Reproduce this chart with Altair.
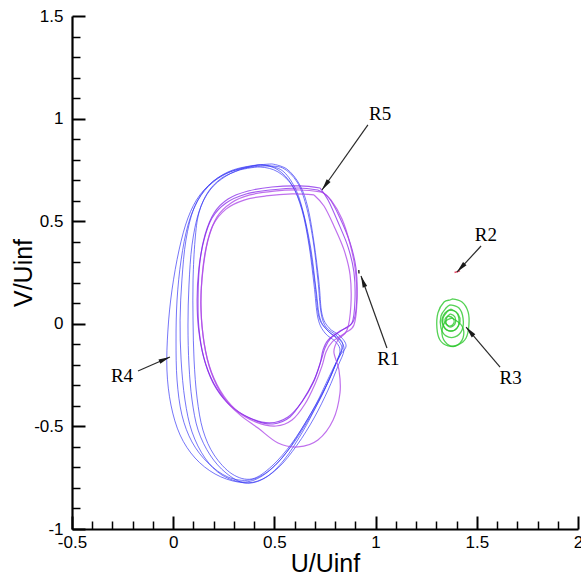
import math
import altair as alt
import pandas as pd

# ---------------- data ----------------
# R4 (blue) cycles
blue_x = [
    [0.419,0.320,0.221,0.132,0.073,0.029,-0.006,-0.026,-0.031,-0.011,0.034,0.108,0.207,0.320,0.419,0.518,0.612,0.696,0.765,0.814,0.844,0.824,0.765,0.725,0.706,0.681,0.646,0.607,0.547,0.478,0.419],
    [0.379,0.281,0.192,0.123,0.073,0.039,0.019,0.014,0.019,0.043,0.093,0.172,0.271,0.379,0.478,0.577,0.661,0.735,0.790,0.824,0.804,0.750,0.715,0.696,0.671,0.636,0.587,0.518,0.439,0.379],
    [0.454,0.355,0.261,0.182,0.127,0.093,0.078,0.073,0.078,0.093,0.123,0.182,0.261,0.355,0.454,0.547,0.636,0.710,0.775,0.814,0.839,0.809,0.755,0.730,0.715,0.691,0.656,0.612,0.542,0.454],
    [0.330,0.241,0.172,0.127,0.108,0.098,0.098,0.103,0.118,0.147,0.202,0.291,0.389,0.488,0.587,0.676,0.750,0.804,0.834,0.809,0.760,0.720,0.701,0.676,0.641,0.592,0.518,0.429,0.330],
    [0.488,0.379,0.271,0.172,0.103,0.063,0.043,0.034,0.039,0.058,0.093,0.157,0.241,0.345,0.439,0.538,0.626,0.706,0.770,0.819,0.854,0.824,0.770,0.735,0.720,0.696,0.666,0.626,0.562,0.488],
]
blue_y = [
    [0.774,0.754,0.711,0.628,0.516,0.360,0.165,-0.030,-0.225,-0.396,-0.542,-0.654,-0.732,-0.771,-0.766,-0.703,-0.591,-0.459,-0.323,-0.206,-0.128,-0.079,-0.035,0.028,0.165,0.360,0.530,0.652,0.740,0.769,0.774],
    [0.764,0.740,0.686,0.603,0.481,0.311,0.116,-0.079,-0.274,-0.444,-0.576,-0.678,-0.747,-0.761,-0.712,-0.605,-0.479,-0.347,-0.225,-0.137,-0.089,-0.045,0.028,0.189,0.384,0.555,0.676,0.750,0.774,0.764],
    [0.769,0.759,0.720,0.652,0.545,0.384,0.189,-0.006,-0.201,-0.371,-0.518,-0.639,-0.727,-0.776,-0.751,-0.664,-0.532,-0.396,-0.264,-0.167,-0.103,-0.059,-0.016,0.057,0.213,0.408,0.579,0.691,0.759,0.769],
    [0.750,0.711,0.642,0.540,0.408,0.213,0.018,-0.176,-0.362,-0.518,-0.639,-0.732,-0.756,-0.693,-0.581,-0.444,-0.313,-0.196,-0.123,-0.074,-0.030,0.033,0.189,0.369,0.545,0.667,0.740,0.764,0.750],
    [0.779,0.769,0.740,0.672,0.564,0.408,0.213,0.018,-0.176,-0.371,-0.527,-0.654,-0.737,-0.771,-0.742,-0.654,-0.527,-0.391,-0.259,-0.162,-0.108,-0.059,-0.020,0.048,0.204,0.394,0.564,0.676,0.754,0.779],
]

# R5 (purple) cycles: two strong, two lighter
purple_x = [
    [0.725,0.626,0.488,0.370,0.271,0.202,0.157,0.132,0.123,0.127,0.152,0.202,0.281,0.379,0.478,0.567,0.636,0.691,0.725,0.740,0.765,0.824,0.883,0.898,0.893,0.864,0.814,0.765,0.725],
    [0.715,0.617,0.478,0.360,0.261,0.192,0.152,0.127,0.118,0.127,0.157,0.211,0.295,0.399,0.493,0.577,0.641,0.696,0.730,0.750,0.780,0.844,0.893,0.908,0.903,0.874,0.824,0.770,0.715],
]
purple_y = [
    [0.662,0.672,0.667,0.647,0.608,0.540,0.433,0.301,0.140,-0.020,-0.167,-0.293,-0.396,-0.459,-0.483,-0.454,-0.381,-0.289,-0.196,-0.128,-0.079,-0.035,0.004,0.116,0.252,0.374,0.496,0.603,0.662],
    [0.652,0.662,0.652,0.633,0.589,0.516,0.408,0.272,0.116,-0.040,-0.186,-0.313,-0.410,-0.469,-0.488,-0.454,-0.371,-0.274,-0.181,-0.118,-0.069,-0.025,0.018,0.135,0.272,0.394,0.516,0.613,0.652],
]
violet_x = [
    [0.696,0.587,0.458,0.350,0.261,0.197,0.162,0.142,0.137,0.152,0.187,0.251,0.330,0.419,0.518,0.617,0.715,0.790,0.824,0.819,0.794,0.814,0.859,0.878,0.874,0.844,0.794,0.745,0.696],
    [0.735,0.626,0.498,0.379,0.286,0.216,0.172,0.147,0.137,0.147,0.177,0.231,0.310,0.409,0.508,0.587,0.651,0.701,0.735,0.755,0.785,0.849,0.893,0.908,0.900,0.874,0.834,0.780,0.735],
]
violet_y = [
    [0.628,0.633,0.623,0.603,0.559,0.481,0.369,0.223,0.067,-0.089,-0.235,-0.362,-0.444,-0.508,-0.581,-0.600,-0.566,-0.469,-0.337,-0.225,-0.137,-0.079,-0.030,0.092,0.238,0.360,0.477,0.574,0.628],
    [0.642,0.652,0.647,0.628,0.589,0.520,0.408,0.262,0.106,-0.055,-0.201,-0.323,-0.420,-0.479,-0.498,-0.469,-0.391,-0.293,-0.206,-0.137,-0.089,-0.045,-0.006,0.116,0.262,0.389,0.511,0.603,0.642],
]

# R3 (green) spiral
green_x = [
    [1.377,1.427,1.457,1.461,1.447,1.407,1.358,1.318,1.303,1.308,1.338,1.368,1.377],
    [1.368,1.412,1.432,1.427,1.392,1.348,1.323,1.323,1.348,1.368],
    [1.363,1.397,1.412,1.402,1.368,1.338,1.333,1.353,1.363],
    [1.368,1.392,1.392,1.368,1.348,1.353,1.368],
    [1.377,1.427,1.432,1.397,1.353,1.328,1.343,1.377],
    [1.358,1.382,1.387,1.368,1.348,1.343,1.358],
    [1.373,1.407,1.417,1.392,1.353,1.328,1.343,1.373],
]
green_y = [
    [0.121,0.106,0.058,-0.006,-0.069,-0.103,-0.108,-0.079,-0.021,0.053,0.106,0.116,0.121],
    [0.092,0.077,0.028,-0.030,-0.064,-0.059,-0.021,0.038,0.077,0.092],
    [0.067,0.058,0.018,-0.021,-0.035,-0.016,0.028,0.058,0.067],
    [0.048,0.033,-0.001,-0.016,0.004,0.033,0.048],
    [0.028,-0.011,-0.069,-0.108,-0.098,-0.050,0.009,0.028],
    [0.038,0.028,0.004,-0.011,-0.001,0.023,0.038],
    [0.072,0.048,0.009,-0.030,-0.030,0.009,0.053,0.072],
]

# R1 (black) and R2 (red) are tiny
r1_x = [0.917, 0.918]
r1_y = [0.262, 0.245]
r2_x = [1.390, 1.417]
r2_y = [0.250, 0.258]

# annotations
label_text = ["R5", "R2", "R3", "R1", "R4"]
label_x = [1.022, 1.545, 1.667, 1.063, -0.253]
label_y = [1.022, 0.433, -0.264, -0.172, -0.254]
arrow_x0 = [0.962, 1.521, 1.615, 1.056, -0.174]
arrow_y0 = [0.969, 0.379, -0.211, -0.118, -0.230]
arrow_x1 = [0.735, 1.402, 1.447, 0.928, -0.016]
arrow_y1 = [0.652, 0.252, -0.016, 0.233, -0.162]

x_major = [-0.5, 0, 0.5, 1, 1.5, 2]
y_major = [-1, -0.5, 0, 0.5, 1, 1.5]
x_minor = [-0.4, -0.3, -0.2, -0.1, 0.1, 0.2, 0.3, 0.4, 0.6, 0.7, 0.8, 0.9,
           1.1, 1.2, 1.3, 1.4, 1.6, 1.7, 1.8, 1.9]
y_minor = [-0.9, -0.8, -0.7, -0.6, -0.4, -0.3, -0.2, -0.1, 0.1, 0.2, 0.3, 0.4,
           0.6, 0.7, 0.8, 0.9, 1.1, 1.2, 1.3, 1.4]

# ---------------- build tables ----------------
W, H = 506, 513
XD = [-0.5, 2.0]
YD = [-1.0, 1.5]

rows = []
def add(group, xs_list, ys_list):
    for k, (xs, ys) in enumerate(zip(xs_list, ys_list)):
        for i, (a, b) in enumerate(zip(xs, ys)):
            rows.append({"x": a, "y": b, "group": group, "loop": f"{group}{k}", "i": i})

add("blue", blue_x, blue_y)
add("purple", purple_x, purple_y)
add("violet", violet_x, violet_y)
add("green", green_x, green_y)
add("r1", [r1_x], [r1_y])
add("r2", [r2_x], [r2_y])
curves_df = pd.DataFrame(rows)

kx = W / (XD[1] - XD[0])
ky = H / (YD[1] - YD[0])
angles = []
for a, b, c, d in zip(arrow_x0, arrow_y0, arrow_x1, arrow_y1):
    ang = math.degrees(math.atan2((c - a) * kx, (d - b) * ky)) % 360
    angles.append(ang)
arrows_df = pd.DataFrame({"x0": arrow_x0, "y0": arrow_y0, "x1": arrow_x1,
                          "y1": arrow_y1, "ang": angles})
labels_df = pd.DataFrame({"x": label_x, "y": label_y, "t": label_text})
frame_df = pd.DataFrame({"x": XD, "y": YD})

xs = alt.Scale(domain=XD, nice=False, zero=False)
ys = alt.Scale(domain=YD, nice=False, zero=False)

LABEL_FONT = "Liberation Sans"
lab_expr = "'' + datum.value"

x_main_axis = alt.Axis(values=x_major, orient="bottom", ticks=False, grid=False,
                       domainColor="black", domainWidth=2.2, labelExpr=lab_expr,
                       labelFont=LABEL_FONT, labelFontSize=17, labelColor="black",
                       labelPadding=5, labelFlush=False, labelOverlap=False,
                       title="U/Uinf", titleFont=LABEL_FONT, titleFontSize=25,
                       titleFontWeight="normal", titleColor="black", titlePadding=1)
y_main_axis = alt.Axis(values=y_major, orient="left", ticks=False, grid=False,
                       domainColor="black", domainWidth=2.2, labelExpr=lab_expr,
                       labelFont=LABEL_FONT, labelFontSize=17, labelColor="black",
                       labelPadding=9, labelFlush=False, labelOverlap=False,
                       title="V/Uinf", titleFont=LABEL_FONT, titleFontSize=25,
                       titleFontWeight="normal", titleColor="black", titlePadding=-3)

frame = alt.Chart(frame_df).mark_point(opacity=0).encode(
    x=alt.X("x:Q", scale=xs, axis=x_main_axis),
    y=alt.Y("y:Q", scale=ys, axis=y_main_axis),
)

def tick_layer(xv, yv, size, width):
    return alt.Chart(frame_df).mark_point(opacity=0).encode(
        x=alt.X("x:Q", scale=xs, axis=alt.Axis(values=xv, orient="bottom", offset=-size,
                tickSize=size, tickWidth=width, tickColor="black", domain=False,
                labels=False, grid=False, title=None)),
        y=alt.Y("y:Q", scale=ys, axis=alt.Axis(values=yv, orient="left", offset=-size,
                tickSize=size, tickWidth=width, tickColor="black", domain=False,
                labels=False, grid=False, title=None)),
    )

major_ticks = tick_layer(x_major, y_major, 13, 2)
minor_ticks = tick_layer(x_minor, y_minor, 8, 1.5)

groups = ["blue", "purple", "violet", "green", "r1", "r2"]
curves = alt.Chart(curves_df).mark_line(interpolate="cardinal").encode(
    x=alt.X("x:Q", scale=xs, axis=None),
    y=alt.Y("y:Q", scale=ys, axis=None),
    color=alt.Color("group:N", legend=None,
                    scale=alt.Scale(domain=groups,
                                    range=["#3b3bf5", "#8422ea", "#ad48e8", "#2ec82e", "#000000", "#e83a5a"])),
    opacity=alt.Opacity("group:N", legend=None,
                        scale=alt.Scale(domain=groups,
                                        range=[0.7, 0.9, 0.8, 0.9, 1, 1])),
    strokeWidth=alt.StrokeWidth("group:N", legend=None,
                                scale=alt.Scale(domain=groups,
                                                range=[1, 1.5, 1.1, 1, 1.5, 2])),
    detail="loop:N",
    order="i:Q",
)

shafts = alt.Chart(arrows_df).mark_rule(color="#2a2a2a", strokeWidth=1.2).encode(
    x=alt.X("x0:Q", scale=xs, axis=None),
    y=alt.Y("y0:Q", scale=ys, axis=None),
    x2="x1:Q", y2="y1:Q",
)
heads = alt.Chart(arrows_df).mark_point(
    shape="M0,0L0.45,2.2L-0.45,2.2Z", filled=True, size=110, color="#1a1a1a", opacity=1
).encode(
    x=alt.X("x1:Q", scale=xs, axis=None),
    y=alt.Y("y1:Q", scale=ys, axis=None),
    angle=alt.Angle("ang:Q", scale=None),
)
texts = alt.Chart(labels_df).mark_text(font="Liberation Serif", fontSize=19,
                                       color="black").encode(
    x=alt.X("x:Q", scale=xs, axis=None),
    y=alt.Y("y:Q", scale=ys, axis=None),
    text="t:N",
)

chart = alt.layer(frame, major_ticks, minor_ticks, curves, shafts, heads, texts).resolve_axis(
    x="independent", y="independent"
).properties(
    width=W, height=H,
    autosize=alt.AutoSizeParams(type="none"),
    padding={"left": 72, "top": 16, "right": 3, "bottom": 50},
    background="white",
).configure_view(stroke=None)

chart.save("out.html", embed_options={"renderer": "svg", "actions": False})
